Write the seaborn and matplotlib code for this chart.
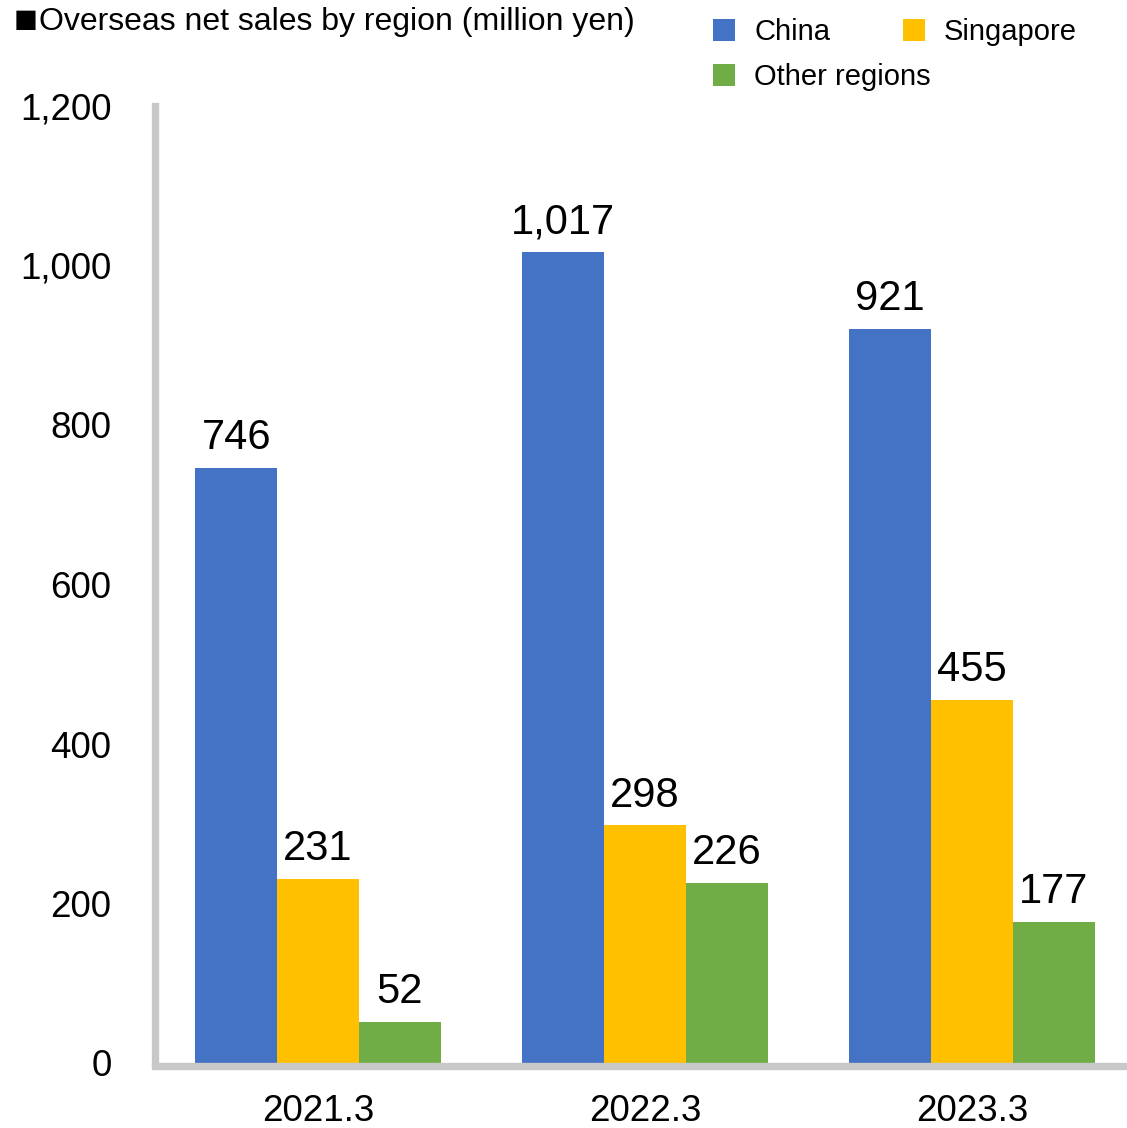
import matplotlib
matplotlib.use("Agg")
import matplotlib.pyplot as plt
from matplotlib.ticker import FuncFormatter, MultipleLocator
import seaborn as sns
import pandas as pd

years = ["2021.3", "2022.3", "2023.3"]
regions = ["China", "Singapore", "Other regions"]
china = [746, 1017, 921]
singapore = [231, 298, 455]
other = [52, 226, 177]
colors = ["#4472C4", "#FFC000", "#70AD47"]

sns.set_theme(style="white")
plt.rcParams["font.family"] = ["Liberation Sans", "DejaVu Sans"]
plt.rcParams["text.color"] = "black"

df = pd.DataFrame({
    "year": years * 3,
    "region": [r for r in regions for _ in years],
    "sales": china + singapore + other,
})

W, H = 1127, 1128
fig = plt.figure(figsize=(W / 100, H / 100), dpi=100)
left_px, bottom_px, top_px = 154.5, 1063, 106
ax = fig.add_axes([left_px / W, 1 - bottom_px / H,
                   (W - left_px) / W, (bottom_px - top_px) / H])

sns.barplot(data=df, x="year", y="sales", hue="region",
            order=years, hue_order=regions, palette=colors,
            width=0.75, saturation=1, linewidth=0, errorbar=None, ax=ax)

ax.set_xlim(-0.5, -0.5 + (W - left_px) / 327)
ax.set_ylim(0, 1200)
ax.yaxis.set_major_locator(MultipleLocator(200))
ax.yaxis.set_major_formatter(FuncFormatter(lambda v, p: f"{v:,.0f}"))
ax.set_xlabel("")
ax.set_ylabel("")

spine_color = "#C8C8C8"
for side in ("top", "right"):
    ax.spines[side].set_visible(False)
for side in ("left", "bottom"):
    ax.spines[side].set_color(spine_color)
    ax.spines[side].set_linewidth(5.3)
ax.spines["bottom"].set_position(("outward", 2.5))

ax.tick_params(axis="y", length=0, pad=31, labelsize=26.5, labelcolor="black")
ax.tick_params(axis="x", length=0, pad=20, labelsize=26.5, labelcolor="black")

for container in ax.containers:
    ax.bar_label(container, fmt="{:,.0f}", padding=7, fontsize=30, color="black")

handles, labels = ax.get_legend_handles_labels()
if ax.get_legend() is not None:
    ax.get_legend().remove()

leg_kw = dict(loc="upper left", frameon=False, fontsize=21, labelcolor="black",
              handlelength=0.76, handleheight=0.76, handletextpad=0.65,
              borderpad=0, borderaxespad=0)
fig.legend(handles[:2], labels[:2], ncol=2, columnspacing=2.5,
           bbox_to_anchor=(713 / W, 1 - 18 / H), **leg_kw)
fig.legend(handles[2:], labels[2:],
           bbox_to_anchor=(713 / W, 1 - 63 / H), **leg_kw)

# Heading: black square marker followed by the caption
fig.text(13.5 / W, 1 - 32 / H, "■", fontsize=28.5, va="baseline", ha="left",
         color="black")
fig.text(39 / W, 1 - 30 / H, "Overseas net sales by region (million yen)",
         fontsize=23, va="baseline", ha="left", color="black")

fig.savefig("out.png", dpi=100)
